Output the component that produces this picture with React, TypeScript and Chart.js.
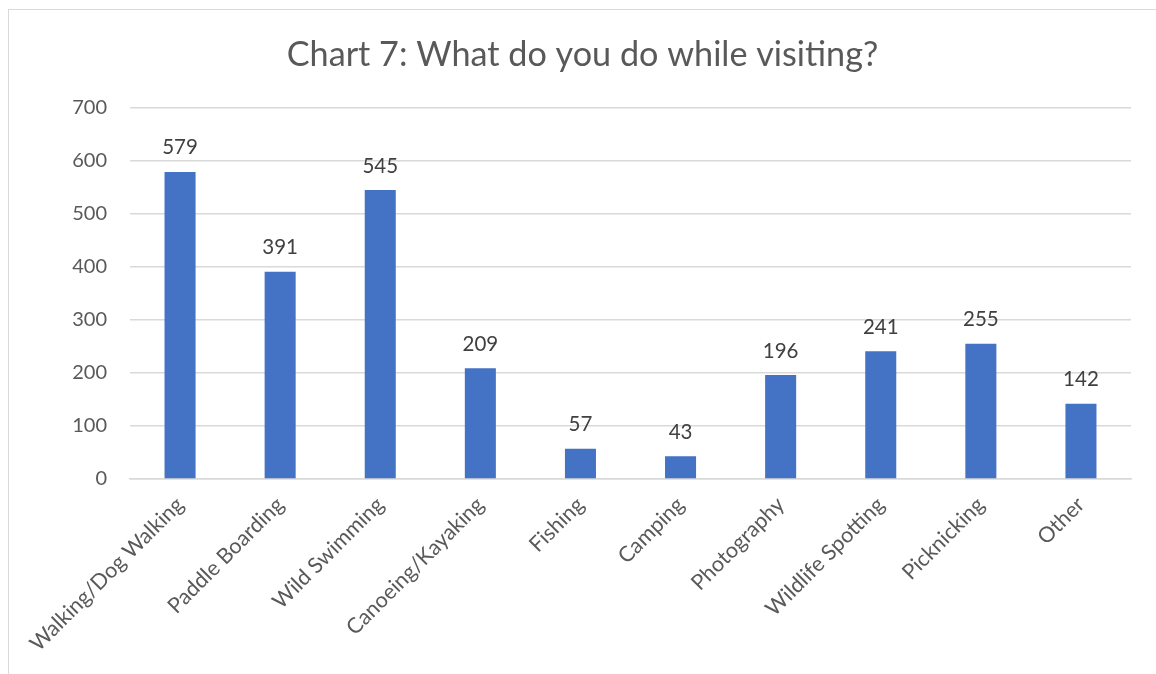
import React, { useEffect, useRef } from "react";
import { Chart, registerables } from "chart.js";

Chart.register(...registerables);

const categories = [
  "Walking/Dog Walking",
  "Paddle Boarding",
  "Wild Swimming",
  "Canoeing/Kayaking",
  "Fishing",
  "Camping",
  "Photography",
  "Wildlife Spotting",
  "Picknicking",
  "Other",
];
const values = [579, 391, 545, 209, 57, 43, 196, 241, 255, 142];
const yTicks = [0, 100, 200, 300, 400, 500, 600, 700];
const titleText = "Chart 7: What do you do while visiting?";

const FONT = "Lato, 'Noto Sans', sans-serif";

const dataLabels = {
  id: "dataLabels",
  afterDatasetsDraw(chart: any) {
    const ctx = chart.ctx;
    const meta = chart.getDatasetMeta(0);
    ctx.save();
    ctx.font = `20.5px ${FONT}`;
    ctx.fillStyle = "#404040";
    ctx.textAlign = "center";
    ctx.textBaseline = "alphabetic";
    meta.data.forEach((bar: any, i: number) => {
      ctx.fillText(String(values[i]), bar.x, bar.y - 17.5);
    });
    ctx.restore();
  },
};

export default function App() {
  const ref = useRef<HTMLCanvasElement | null>(null);
  useEffect(() => {
    if (!ref.current) return;
    const chart = new Chart(ref.current, {
      type: "bar",
      data: {
        labels: categories,
        datasets: [
          {
            data: values,
            backgroundColor: "#4472C4",
            barPercentage: 0.31,
            categoryPercentage: 1,
          },
        ],
      },
      options: {
        animation: false,
        responsive: false,
        maintainAspectRatio: false,
        layout: { padding: { left: 34, right: 25, top: 0, bottom: 0 } },
        plugins: {
          legend: { display: false },
          tooltip: { enabled: false },
          title: {
            display: true,
            text: titleText,
            color: "#595959",
            font: { family: FONT, size: 34.2, weight: "normal" },
            padding: { top: 34.5, bottom: 32.3 },
          },
        },
        scales: {
          x: {
            grid: { display: false },
            border: { color: "#d9d9d9", width: 1.5 },
            ticks: {
              color: "#595959",
              font: { family: FONT, size: 21.5 },
              maxRotation: 45,
              minRotation: 45,
              autoSkip: false,
              padding: 5,
            },
            afterFit: (s: any) => {
              s.height = 195;
            },
          },
          y: {
            min: 0,
            max: 700,
            afterBuildTicks: (s: any) => {
              s.ticks = yTicks.map((v) => ({ value: v }));
            },
            grid: { color: "#d9d9d9", lineWidth: 1.5, drawTicks: false },
            border: { display: false },
            ticks: {
              color: "#595959",
              font: { family: FONT, size: 20 },
              padding: 23,
            },
            afterFit: (s: any) => {
              s.width = 96;
            },
          },
        },
      },
      plugins: [dataLabels],
    });
    return () => chart.destroy();
  }, []);

  return (
    <div
      style={{
        position: "fixed",
        left: 0,
        top: 0,
        width: 1156,
        height: 674,
        background: "#ffffff",
        overflow: "hidden",
      }}
    >
      <div
        style={{
          position: "absolute",
          left: 8,
          top: 9,
          width: 1300,
          height: 800,
          borderLeft: "1.5px solid #d9d9d9",
          borderTop: "1.5px solid #d9d9d9",
        }}
      />
      <canvas
        ref={ref}
        width={1156}
        height={674}
        style={{ position: "absolute", left: 0, top: 0 }}
      />
    </div>
  );
}
